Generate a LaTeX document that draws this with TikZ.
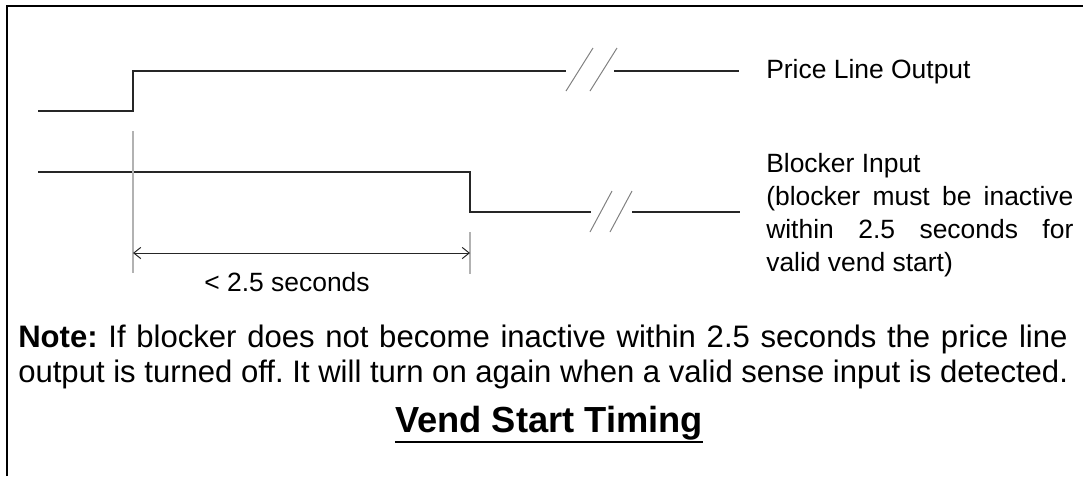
\documentclass[tikz,border=0pt]{standalone}
\usepackage{fontspec}
\setmainfont{Liberation Sans}
\usetikzlibrary{arrows.meta, positioning, calc}
\newcommand{\fullline}[2][7.675cm]{\makebox[#1][s]{#2}}

\begin{document}
\frenchspacing
\begin{tikzpicture}[x=0.025cm, y=-0.025cm,
    wave/.style={line width=0.9pt, black!85},
    brk/.style={line width=0.7pt, black!50},
    guide/.style={line width=0.9pt, black!30},
    dimarrow/.style={line width=0.7pt, black!85, {Straight Barb[length=5pt,width=8pt]}-{Straight Barb[length=5pt,width=8pt]}},
    lbl/.style={inner sep=0pt, font=\fontsize{18.8}{23.5}\selectfont},
    notetext/.style={inner sep=0pt, anchor=base west, font=\fontsize{22.1}{24}\selectfont}]
    \useasboundingbox (0,0) rectangle (1083,476);
    \draw[line width=1.4pt] (7,476) -- (7,6) -- (1083,6);

    \draw[wave] (38,111) -- (133,111) -- (133,71) -- (566,71);
    \draw[brk] (566,91) -- (593,48);
    \draw[brk] (590,91) -- (617,48);
    \draw[wave] (614,71) -- (739,71);

    \draw[wave] (38,172) -- (470,172) -- (470,212) -- (591,212);
    \draw[brk] (590,232) -- (612,191);
    \draw[brk] (610,232) -- (632,191);
    \draw[wave] (632,212) -- (740,212);

    \coordinate (t0) at (133,253);
    \coordinate (t1) at (470,253);
    \draw[guide] (133,131) -- (133,273);
    \draw[guide] (470,232) -- (470,274);
    \draw[dimarrow] (t0) -- (t1);
    \node[lbl, anchor=base] (dur) at (287,291) {\textless{} 2.5 seconds};

    \node[lbl, anchor=base west] (price) at (766,78) {Price Line Output};
    \node[lbl, anchor=base west] (blocker) at (766,172) {\parbox[t]{7.675cm}{Blocker Input\\
        \fullline{(blocker must be inactive}\\
        \fullline{within 2.5 seconds for}\\
        valid vend start)}};

    \node[notetext] (note1) at (18,347) {\fullline[26.225cm]{\textbf{Note:} If blocker does not become inactive within 2.5 seconds the price line}};
    \node[notetext] (note2) at (18,382) {output is turned off. It will turn on again when a valid sense input is detected.};

    \node[inner sep=0pt, anchor=base, font=\fontsize{25.8}{28}\selectfont\bfseries] (title) at (549,432) {Vend Start Timing};
    \draw[line width=1.6pt] ($(title.base west)+(0,10)$) -- ($(title.base east)+(0,10)$);
\end{tikzpicture}
\end{document}
